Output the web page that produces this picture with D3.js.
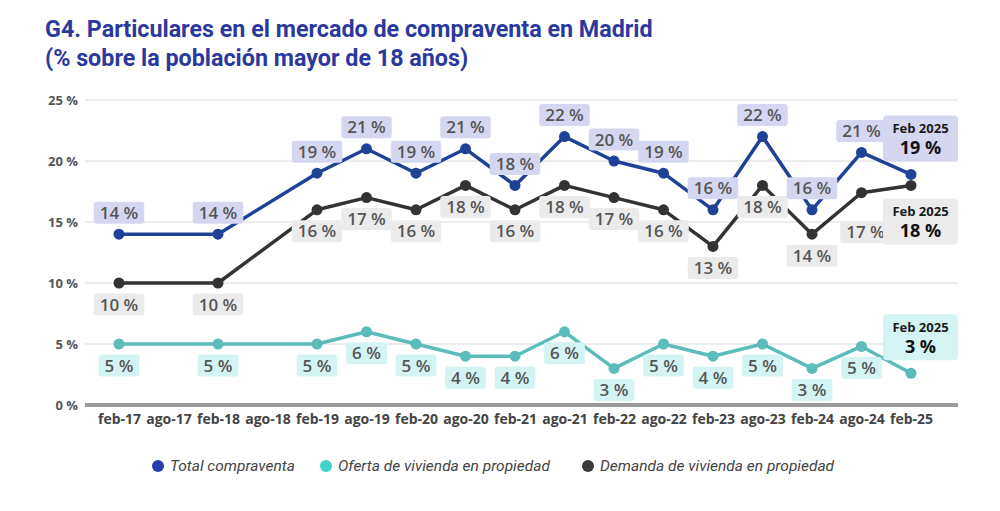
<!DOCTYPE html>
<html>
<head>
<meta charset="utf-8">
<script src="https://cdn.jsdelivr.net/npm/d3@7/dist/d3.min.js"></script>
<style>
  body { margin: 0; background: #fff; }
  svg { display: block; }
</style>
</head>
<body>
<div id="chart"></div>
<script>
const categories = ['feb-17','ago-17','feb-18','ago-18','feb-19','ago-19','feb-20','ago-20','feb-21',
  'ago-21','feb-22','ago-22','feb-23','ago-23','feb-24','ago-24','feb-25'];
// null = no dato (la línea une los puntos vecinos)
const total   = [14, null, 14, null, 19, 21, 19, 21, 18, 22, 20, 19, 16, 22, 16, 20.7, 18.9];
const oferta  = [5, null, 5, null, 5, 6, 5, 4, 4, 6, 3, 5, 4, 5, 3, 4.8, 2.6];
const demanda = [10, null, 10, null, 16, 17, 16, 18, 16, 18, 17, 16, 13, 18, 14, 17.4, 18];
const yTicks = [0, 5, 10, 15, 20, 25];
const seriesNames = ['Total compraventa', 'Oferta de vivienda en propiedad', 'Demanda de vivienda en propiedad'];
const lastLabel = 'Feb 2025';

const W = 1000, H = 511;
const MARGIN = {TOP: 100, BOTTOM: 106, LEFT: 85, RIGHT: 42};
const FONT = "'Open Sans', sans-serif";

const svg = d3.select('#chart').append('svg')
  .attr('width', W).attr('height', H);

// title
const title = svg.append('text')
  .attr('x', 45).attr('fill', '#2b399e')
  .style('font-family', 'Roboto, sans-serif')
  .style('font-weight', 700).style('font-size', '23.3px');
title.append('tspan').attr('x', 45).attr('y', 37).text('G4. Particulares en el mercado de compraventa en Madrid');
title.append('tspan').attr('x', 45).attr('y', 66).text('(% sobre la población mayor de 18 años)');

// points sit inside the grid, first at 119, last at 911
const x = d3.scalePoint()
  .domain(categories)
  .range([MARGIN.LEFT + 34, W - MARGIN.RIGHT - 47]);

const y = d3.scaleLinear()
  .domain([0, 25])
  .range([H - MARGIN.BOTTOM, MARGIN.TOP]);

// grid
svg.append('g').selectAll('line')
  .data(yTicks.filter(d => d > 0))
  .join('line')
  .attr('x1', MARGIN.LEFT).attr('x2', W - MARGIN.RIGHT)
  .attr('y1', d => y(d)).attr('y2', d => y(d))
  .attr('stroke', '#dadada').attr('stroke-width', 1);

// y axis labels
const yAxis = svg.append('g')
  .attr('transform', `translate(${MARGIN.LEFT - 7},0)`)
  .call(d3.axisLeft(y).tickValues(yTicks).tickSize(0).tickPadding(0).tickFormat(d => d + ' %'));
yAxis.select('.domain').remove();
yAxis.selectAll('text')
  .style('font-family', FONT).style('font-size', '13px').style('font-weight', 700).attr('fill', '#555');

// baseline
svg.append('line')
  .attr('x1', MARGIN.LEFT).attr('x2', W - MARGIN.RIGHT)
  .attr('y1', y(0)).attr('y2', y(0))
  .attr('stroke', '#9a9a9a').attr('stroke-width', 4);

// x axis labels
const xAxis = svg.append('g')
  .attr('transform', `translate(0,${y(0) + 9})`)
  .call(d3.axisBottom(x).tickSize(0).tickPadding(0));
xAxis.select('.domain').remove();
xAxis.selectAll('text')
  .style('font-family', FONT).style('font-size', '14px').style('font-weight', 700).attr('fill', '#444');

const series = [
  {name: seriesNames[0], values: total,   line: '#1f4196', box: '#d5d7f1', legend: '#2a3bb0', dir: -1, callDir: -1},
  {name: seriesNames[2], values: demanda, line: '#333333', box: '#ebebeb', legend: '#3a3a3a', dir: 1,  callDir: 1},
  {name: seriesNames[1], values: oferta,  line: '#5bbdb9', box: '#d3f4f2', legend: '#3fd5c8', dir: 1,  callDir: -1}
];

// label nudges where the original moves a label to avoid the callouts
const nudge = {'Demanda de vivienda en propiedad|ago-24': {dx: 4, dy: 18}};

const line = d3.line()
  .x(d => x(d.cat))
  .y(d => y(d.v));

series.forEach(s => {
  const pts = s.values.map((v, i) => ({cat: categories[i], v: v})).filter(d => d.v !== null);
  const g = svg.append('g');
  g.append('path')
    .datum(pts)
    .attr('d', line)
    .attr('fill', 'none')
    .attr('stroke', s.line)
    .attr('stroke-width', 3.5)
    .attr('stroke-linejoin', 'round');
  g.selectAll('circle')
    .data(pts)
    .join('circle')
    .attr('cx', d => x(d.cat)).attr('cy', d => y(d.v))
    .attr('r', 5.5).attr('fill', s.line);
  s.pts = pts;
});

// value labels (all but the last point)
series.forEach(s => {
  const lbls = s.pts.slice(0, -1);
  lbls.forEach(d => {
    const n = nudge[s.name + '|' + d.cat] || {dx: 0, dy: 0};
    const cx = x(d.cat) + n.dx;
    const cy = y(d.v) + s.dir * 21.5 + n.dy;
    const rect = svg.append('rect');
    const t = svg.append('text')
      .attr('x', cx).attr('y', cy + 6)
      .attr('text-anchor', 'middle')
      .style('font-family', FONT).style('font-size', '17px').style('font-weight', 600)
      .attr('fill', '#555')
      .text(Math.round(d.v) + ' %');
    const w = t.node().getComputedTextLength() + 12;
    rect.attr('x', cx - w / 2).attr('y', cy - 11)
      .attr('width', w).attr('height', 22)
      .attr('rx', 3).attr('fill', s.box);
  });
});

// callouts for the last point
series.forEach(s => {
  const d = s.pts[s.pts.length - 1];
  const bx = x(d.cat) - 28;
  const cy = y(d.v) + s.callDir * 36;
  svg.append('rect')
    .attr('x', bx).attr('y', cy - 23)
    .attr('width', 75).attr('height', 46)
    .attr('rx', 4).attr('fill', s.box);
  svg.append('text')
    .attr('x', bx + 37.5).attr('y', cy - 5)
    .attr('text-anchor', 'middle')
    .style('font-family', FONT).style('font-size', '13px').style('font-weight', 700)
    .attr('fill', '#1a1a1a').text(lastLabel);
  svg.append('text')
    .attr('x', bx + 37.5).attr('y', cy + 16)
    .attr('text-anchor', 'middle')
    .style('font-family', FONT).style('font-size', '18px').style('font-weight', 700)
    .attr('fill', '#111').text(Math.round(d.v) + ' %');
});

// legend
const legendX = [158, 326, 588];
const legendOrder = [series[0], series[2], series[1]];
const legend = svg.append('g').attr('transform', `translate(0,466)`);
legendOrder.forEach((s, i) => {
  legend.append('circle')
    .attr('cx', legendX[i]).attr('cy', 0).attr('r', 6)
    .attr('fill', s.legend);
  legend.append('text')
    .attr('x', legendX[i] + 12).attr('y', 5)
    .style('font-family', 'Roboto, sans-serif').style('font-size', '15.5px').style('font-style', 'italic')
    .attr('fill', '#444')
    .text(s.name);
});
</script>
</body>
</html>
